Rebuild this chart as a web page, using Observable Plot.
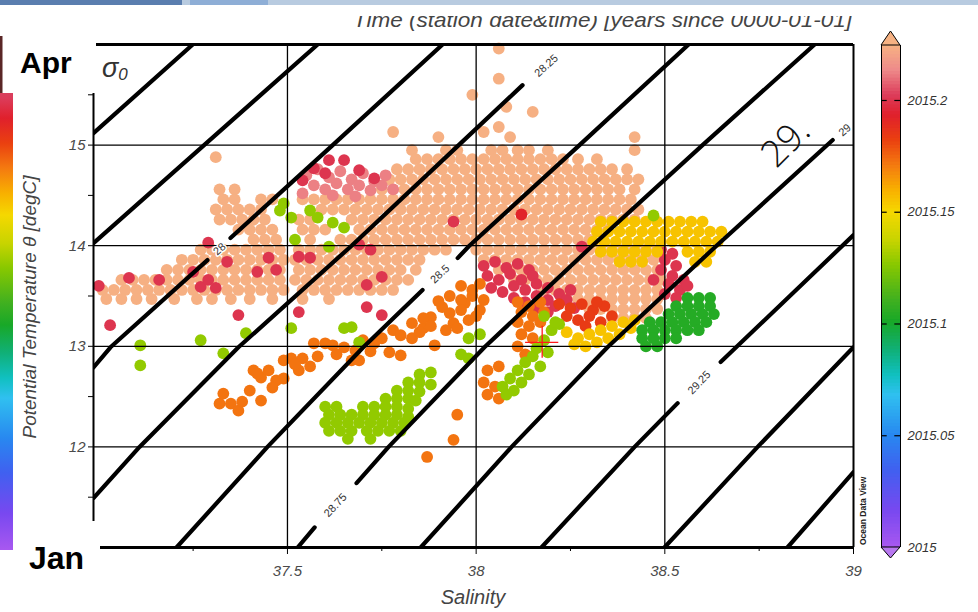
<!DOCTYPE html>
<html><head><meta charset="utf-8">
<script src="https://cdn.jsdelivr.net/npm/d3@7"></script>
<script src="https://cdn.jsdelivr.net/npm/@observablehq/plot@0.6"></script>
<style>
html,body{margin:0;padding:0;background:#fff;}
#wrap{position:relative;width:978px;height:612px;overflow:hidden;background:#fff;}
#wrap > svg{position:absolute;left:0;top:0;}
</style></head><body><div id="wrap"></div>
<script>
// ---------- colour scale (time, years) ----------
const colorStops = [2015.0, 2015.0166, 2015.0345, 2015.0501, 2015.068, 2015.077, 2015.0881, 2015.1007, 2015.1105, 2015.1262, 2015.1374, 2015.1499, 2015.1597, 2015.1709, 2015.1821, 2015.1933, 2015.2022, 2015.2134, 2015.2246];
const colorHexes = ["#a858f0","#7848f0","#4060f0","#2888f0","#30c0f0","#10c0c0","#10b078","#18a828","#40b020","#88c800","#c8d400","#f5d800","#f8b000","#f47a10","#ea4010","#e0202c","#dc3c5a","#ee8a8a","#f6b283"];
const colorTicks = [2015, 2015.05, 2015.1, 2015.15, 2015.2];

// ---------- axes ----------
const xMajorTicks = [37.5, 38, 38.5, 39];
const xMinorTicks = [37.25, 37.75, 38.25, 38.75];
const yTicks = [11.5, 12, 12.5, 13, 13.5, 14, 14.5, 15, 15.5];
const gridS = [37.5, 38, 38.5];
const gridT = [12, 13, 14, 15];

// ---------- observations: time of each group ----------
const tPeach = 2015.224, tPink = 2015.212, tCrimson = 2015.2, tRed = 2015.192, tRedOrange = 2015.184,
      tOrange = 2015.172, tYellow = 2015.155, tYellowGreen = 2015.128, tGreen = 2015.104;

// peach (latest profiles): rows of [theta, [salinities]]
const peachRows = [
 [15.96,[38.06]],[15.66,[38.06]],[15.50,[37.99]],[15.38,[38.08]],[15.33,[38.15]],[15.18,[38.06]],
 [15.13,[37.78,38.02]],[15.08,[37.90,38.09,38.42]],
 [14.95,[37.83,37.92,37.95,38.04,38.07,38.11,38.14,38.19,38.42]],
 [14.88,[37.31]],
 [14.86,[37.84,37.87,37.90,37.93,37.96,37.99,38.02,38.05,38.08,38.11,38.14,38.17,38.20,38.23,38.27,38.32]],
 [14.76,[37.79,37.82,37.85,37.88,37.91,37.94,37.97,38.00,38.03,38.06,38.09,38.12,38.15,38.18,38.21,38.24,38.27,38.30,38.33,38.36,38.40]],
 [14.66,[37.77,37.80,37.83,37.86,37.89,37.92,37.95,37.98,38.01,38.04,38.07,38.10,38.13,38.16,38.19,38.22,38.25,38.28,38.31,38.34,38.37,38.40,38.43]],
 [14.56,[37.32,37.36,37.75,37.78,37.81,37.84,37.87,37.90,37.93,37.96,37.99,38.02,38.05,38.08,38.11,38.14,38.17,38.20,38.23,38.26,38.29,38.32,38.35,38.38,38.42]],
 [14.46,[37.33,37.36,37.43,37.46,37.54,37.57,37.60,37.63,37.66,37.69,37.72,37.75,37.78,37.81,37.84,37.87,37.90,37.93,37.96,37.99,38.02,38.05,38.08,38.11,38.14,38.17,38.20,38.23,38.26,38.29,38.32,38.35,38.38,38.41]],
 [14.36,[37.31,37.34,37.37,37.40,37.43,37.59,37.62,37.65,37.68,37.71,37.74,37.77,37.80,37.83,37.86,37.89,37.92,37.95,37.98,38.01,38.04,38.07,38.10,38.13,38.16,38.19,38.22,38.25,38.28,38.31,38.34,38.37,38.40,38.43]],
 [14.26,[37.32,37.35,37.38,37.41,37.44,37.53,37.56,37.67,37.70,37.73,37.76,37.79,37.82,37.85,37.88,37.91,37.94,37.97,38.00,38.03,38.06,38.09,38.12,38.15,38.18,38.21,38.24,38.27,38.30,38.33,38.36,38.39,38.42]],
 [14.16,[37.37,37.40,37.43,37.46,37.54,37.57,37.60,37.69,37.72,37.75,37.78,37.81,37.84,37.87,37.90,37.93,37.96,37.99,38.02,38.05,38.08,38.11,38.14,38.17,38.20,38.23,38.26,38.29,38.32,38.35]],
 [14.06,[37.41,37.44,37.47,37.56,37.64,37.67,37.70,37.73,37.76,37.79,37.82,37.85,37.88,37.91,37.94,37.97,38.00,38.03,38.06,38.09,38.12,38.15,38.18,38.21,38.24,38.27,38.30]],
 [13.96,[37.27,37.30,37.33,37.36,37.39,37.42,37.45,37.48,37.53,37.56,37.59,37.62,37.65,37.68,37.71,37.74,37.77,37.80,37.83,37.86,37.89,37.92,38.00,38.03,38.06,38.09,38.12,38.15,38.18,38.21,38.24,38.27,38.30,38.33,38.36,38.39,38.42,38.45,38.48]],
 [13.86,[37.22,37.25,37.28,37.31,37.34,37.37,37.40,37.43,37.46,37.49,37.52,37.55,37.58,37.61,37.64,37.67,37.70,37.73,37.76,37.79,37.82,37.85,38.02,38.05,38.08,38.11,38.14,38.17,38.20,38.23,38.26,38.29,38.32,38.35,38.38,38.41,38.44,38.47,38.50]],
 [13.76,[37.18,37.21,37.24,37.27,37.30,37.33,37.36,37.39,37.42,37.45,37.48,37.53,37.56,37.59,37.62,37.65,37.68,37.71,37.74,37.77,37.80,37.84,38.06,38.09,38.12,38.15,38.18,38.21,38.24,38.27,38.30,38.33,38.36,38.39,38.42,38.45,38.48]],
 [13.66,[37.06,37.09,37.12,37.15,37.18,37.21,37.24,37.27,37.30,37.33,37.36,37.39,37.42,37.45,37.48,37.52,37.55,37.58,37.61,37.64,37.67,37.70,37.73,37.76,37.79,37.82,38.10,38.13,38.16,38.19,38.22,38.25,38.28,38.31,38.34,38.37,38.40,38.43,38.46,38.49]],
 [13.56,[37.01,37.04,37.07,37.10,37.13,37.16,37.19,37.22,37.25,37.28,37.31,37.34,37.37,37.40,37.43,37.46,37.49,37.54,37.57,37.60,37.63,37.66,37.69,37.72,37.75,37.78,38.18,38.21,38.24,38.27,38.30,38.33,38.36,38.39,38.42,38.45,38.48]],
 [13.47,[37.02,37.06,37.10,37.14,37.20,37.26,37.30,37.35,37.40,37.46,37.54,37.61,38.24,38.27,38.30,38.33,38.36,38.39,38.42,38.45,38.48]],
 [13.37,[38.30,38.33,38.36,38.39,38.42,38.45,38.48]],
 [13.28,[38.36,38.39,38.42,38.45]]
];
// other groups: [salinity, theta]
const pinkPts = [[37.55,14.70],[37.58,14.76],[37.61,14.68],[37.64,14.74],[37.67,14.66],[37.70,14.72],[37.73,14.64],[37.76,14.70],[37.57,14.60],[37.60,14.56],[37.63,14.62],[37.66,14.56],[37.69,14.60],[37.72,14.55],[37.75,14.60],[37.78,14.56],[37.54,14.52],[37.62,14.50],[37.68,14.49]];
const crimsonPts = [
 [37.61,14.85],[37.65,14.85],[37.54,14.65],[37.60,14.72],[37.69,14.75],[37.73,14.67],[37.57,14.77],
 [37.00,13.60],[37.08,13.68],[37.16,13.66],[37.03,13.21],[37.25,13.74],[37.27,13.59],[37.29,13.66],[37.31,13.58],[37.29,14.03],[37.34,13.84],[37.37,13.31],[37.42,13.74],[37.45,13.88],[37.47,13.76],[37.53,13.89],[37.56,13.88],[37.53,13.34],[37.71,13.61],[37.75,13.69],[37.75,13.31],[37.71,13.39],[37.69,14.01],[37.72,13.96],[37.94,14.24],[38.28,13.99],
 [38.02,13.80],[38.05,13.84],[38.08,13.78],[38.11,13.82],[38.14,13.76],[38.03,13.70],[38.06,13.66],[38.09,13.72],[38.12,13.66],[38.15,13.70],[38.04,13.58],[38.07,13.54],[38.10,13.60],[38.13,13.56],[38.16,13.62],[38.19,13.58],[38.10,13.48],[38.13,13.44],[38.16,13.50],[38.19,13.46],[38.22,13.52],[38.21,13.40],[38.24,13.46],[38.26,13.38],[38.16,13.38],[38.19,13.34],[38.25,13.56],
 [38.49,13.96],[38.52,13.92],[38.50,13.86],[38.53,13.80],[38.49,13.76],[38.52,13.70],[38.55,13.66],[38.51,13.62],[38.54,13.56],[38.50,13.52],[38.53,13.48],[38.56,13.60],[38.47,13.66]
];
const redPts = [[38.12,14.31]];
const redOrangePts = [[38.22,13.42],[38.25,13.38],[38.28,13.42],[38.31,13.36],[38.34,13.40],[38.24,13.30],[38.27,13.26],[38.30,13.30],[38.33,13.24],[38.36,13.30],[38.29,13.20],[38.32,13.44]];
const orangePts = [
 [37.32,12.43],[37.33,12.53],[37.35,12.43],[37.37,12.36],[37.38,12.45],[37.43,12.46],[37.40,12.56],[37.41,12.76],[37.43,12.69],[37.45,12.76],[37.47,12.66],[37.46,12.59],[37.49,12.86],[37.51,12.88],[37.53,12.76],[37.54,12.88],[37.57,13.03],[37.60,13.03],[37.62,13.01],[37.65,12.99],[37.67,12.86],[37.69,12.86],[37.68,12.96],[37.70,13.06],[37.73,13.03],[37.75,13.08],[37.78,13.16],[37.80,13.11],[37.83,13.23],[37.83,13.08],[37.77,12.94],[37.80,12.91],[37.88,13.29],[37.89,13.01],[37.91,13.39],[37.94,13.23],[37.98,13.26],[37.93,13.33],[37.97,13.43],[38.01,13.36],
 [37.42,12.73],[37.49,12.68],[37.52,12.82],[37.56,12.80],[37.58,12.90],[37.63,12.92],[37.72,12.95],[37.86,13.18],
 [37.90,13.45],[37.93,13.50],[37.96,13.46],[37.99,13.50],[38.02,13.46],[37.96,13.36],[38.00,13.30],[37.92,13.16],[37.95,13.18],[37.86,13.28],[37.88,13.20],[37.85,13.14],[37.96,13.60],[37.99,13.56],[38.01,13.62],
 [38.11,13.44],[38.14,13.40],[38.17,13.44],[38.12,13.34],[38.15,13.30],[38.18,13.34],[38.11,13.24],[38.14,13.20],[38.17,13.24],[38.12,13.12],[38.15,13.08],[38.11,13.00],[38.13,12.92],
 [38.03,12.76],[38.02,12.64],[38.05,12.60],[38.03,12.52],[38.06,12.48],[38.06,12.80],
 [37.95,12.32],[37.94,12.07],[37.87,11.90]
];
const yellowRows = [
 [14.24,[38.33,38.36,38.39,38.42,38.45,38.48,38.51,38.54,38.57,38.60]],
 [14.14,[38.32,38.35,38.38,38.41,38.44,38.47,38.50,38.53,38.56,38.59,38.62,38.65]],
 [14.04,[38.31,38.34,38.37,38.40,38.43,38.46,38.49,38.52,38.55,38.58,38.61,38.64]],
 [13.94,[38.33,38.36,38.39,38.42,38.45,38.48,38.56,38.59,38.62]],
 [13.84,[38.38,38.41,38.44,38.58,38.61]]
];
const yellowPts = [[38.24,13.14],[38.27,13.08],[38.30,13.12],[38.33,13.16],[38.36,13.20],[38.39,13.24],[38.26,13.02],[38.29,13.00],[38.32,13.04],[38.35,13.08],[38.38,13.12],[38.41,13.18],[38.42,13.26]];
const yellowGreenPts = [
 [37.48,14.35],[37.51,14.28],[37.56,14.35],[37.58,14.28],[37.62,14.23],[37.65,14.18],[37.52,14.06],[37.61,13.99],[37.49,14.42],[38.47,14.30],
 [37.11,13.01],[37.11,12.81],[37.27,13.06],[37.33,12.93],[37.39,13.13],[37.51,13.18],[37.65,13.18],[37.67,13.19],[37.69,13.04],
 [37.85,12.72],[37.88,12.74],[37.82,12.64],[37.85,12.64],[37.88,12.62],[37.79,12.56],[37.82,12.56],[37.85,12.55],[37.76,12.48],[37.79,12.48],[37.82,12.48],[37.84,12.46],
 [37.60,12.40],[37.63,12.40],[37.70,12.40],[37.73,12.40],[37.76,12.40],[37.79,12.40],[37.82,12.38],
 [37.61,12.32],[37.64,12.32],[37.67,12.32],[37.70,12.32],[37.73,12.32],[37.76,12.32],[37.79,12.32],[37.82,12.30],
 [37.60,12.24],[37.63,12.24],[37.66,12.24],[37.69,12.24],[37.72,12.24],[37.75,12.24],[37.78,12.24],[37.81,12.24],
 [37.61,12.16],[37.64,12.16],[37.67,12.16],[37.71,12.16],[37.74,12.16],[37.77,12.16],[37.80,12.16],[37.66,12.08],[37.72,12.08],
 [37.96,12.92],[37.98,12.88],[37.98,13.08],[38.01,13.12],[38.07,12.60],[38.09,12.68],[38.11,12.76],[38.13,12.84],[38.15,12.90],[38.16,12.98],[38.18,13.06],[38.20,13.16],[38.22,13.22],[38.08,12.52],[38.12,12.64],[38.14,12.72],[38.17,12.80],[38.19,12.94],[38.10,12.56],[38.18,13.30],[38.21,13.24]
];
const greenRows = [
 [13.48,[38.56,38.59,38.62]],
 [13.40,[38.53,38.56,38.59,38.62]],
 [13.32,[38.51,38.54,38.57,38.60,38.63]],
 [13.24,[38.46,38.49,38.52,38.55,38.58,38.61]],
 [13.16,[38.44,38.47,38.50,38.53,38.56,38.59]],
 [13.08,[38.44,38.47,38.50,38.53]],
 [13.00,[38.45,38.48]]
];
// current station marker: salinity, theta, and half-size of the cross arms
const currentStation = {S: 38.175, T: 13.04, dS: 0.044, dT: 0.16};

// ---------- isopycnals sigma0 (null = label gap) ----------
const isoSigma = [27.5, 27.75, 28, 28.25, 28.5, 28.75, 29, 29.25, 29.5, 29.75];
const isoS = [
 [37.249,36.986],
 [37.580,36.986],
 [37.911,37.617,37.349,null,37.288,37.031,36.986],
 [38.123,37.951,37.670,37.370,37.108,36.986],
 [38.563,38.271,37.982,37.951,null,37.858,37.701,37.447,37.206],
 [38.897,38.597,38.308,38.022,37.768,37.683,null,37.572,37.527],
 [38.945,38.637,38.348,38.094,37.853],
 [39.0,38.648,null,38.534,38.420,38.173],
 [39.0,38.746,38.499],
 [39.0,38.825]
];
const isoT = [
 [16.0,15.119],
 [16.0,14.026],
 [16.0,14.99,14.076,null,13.857,12.99,12.79],
 [15.596,14.99,14.0,12.99,12.0,11.49],
 [16.0,14.99,14.0,13.877,null,13.559,12.99,12.0,11.0],
 [16.0,14.99,14.0,12.99,12.0,11.64,null,11.20,11.0],
 [15.05,14.0,12.99,12.0,11.0],
 [14.105,12.843,null,12.435,12.0,11.0],
 [12.99,12.0,11.0],
 [11.75,11.0]
];
const isoLabelText = ["28","28.25","28.5","28.75","29","29.25"];
const isoLabelS = [37.320, 38.186, 37.904, 37.627, 38.977, 38.591];
const isoLabelT = [13.966, 15.79, 13.718, 11.42, 15.15, 12.639];
const isoLabelAngle = [-42, -42, -43, -47, -40, -46];

// ---------- build tables ----------
const fromRows = (rows, t) => rows.flatMap(([T, Ss]) => Ss.map(S => ({S, T, t})));
const fromPairs = (pairs, t) => pairs.map(([S, T]) => ({S, T, t}));
const points = [
 ...fromRows(peachRows, tPeach), ...fromPairs(pinkPts, tPink), ...fromPairs(crimsonPts, tCrimson),
 ...fromPairs(redPts, tRed), ...fromPairs(redOrangePts, tRedOrange), ...fromPairs(orangePts, tOrange),
 ...fromRows(yellowRows, tYellow), ...fromPairs(yellowPts, tYellow),
 ...fromPairs(yellowGreenPts, tYellowGreen), ...fromRows(greenRows, tGreen)
];
const iso = isoSigma.flatMap((s, i) => isoS[i].map((S, j) => ({sigma: s, S: S == null ? NaN : S, T: isoT[i][j] == null ? NaN : isoT[i][j]})));
const isoLabels = isoLabelText.map((text, i) => ({text, S: isoLabelS[i], T: isoLabelT[i], a: isoLabelAngle[i]}));
const cs = currentStation;

const FONT = '"Liberation Sans", Arial, Helvetica, sans-serif';
const colorScale = {type: "linear", domain: colorStops, range: colorHexes};

const main = Plot.plot({
 width: 978, height: 612,
 marginLeft: 93, marginRight: 125, marginTop: 44, marginBottom: 65,
 x: {domain: [36.986, 39], label: null},
 y: {domain: [11, 16], label: null},
 color: colorScale,
 style: {background: "transparent", fontFamily: FONT, overflow: "visible"},
 marks: [
  Plot.dot(points, {x: "S", y: "T", fill: "t", r: 5.9}),
  Plot.ruleY([cs], {y: "T", x1: d => d.S - d.dS, x2: d => d.S + d.dS, stroke: "#ff1a1a", strokeWidth: 1.3}),
  Plot.ruleX([cs], {x: "S", y1: d => d.T - d.dT, y2: d => d.T + d.dT, stroke: "#ff1a1a", strokeWidth: 1.3}),
  Plot.ruleX(gridS, {stroke: "#000", strokeWidth: 1.3}),
  Plot.ruleY(gridT, {stroke: "#000", strokeWidth: 1.3}),
  Plot.line(iso, {x: "S", y: "T", z: "sigma", stroke: "#000", strokeWidth: 4.2, clip: true}),
  Plot.text(isoLabels, {x: "S", y: "T", text: "text", rotate: "a", fontSize: 11, fill: "#333", stroke: "white", strokeWidth: 3}),
  Plot.ruleY([16], {stroke: "#000", strokeWidth: 3}),
  Plot.ruleY([11], {stroke: "#000", strokeWidth: 3}),
  Plot.ruleX([39], {stroke: "#000", strokeWidth: 2}),
  Plot.ruleX([36.986], {stroke: "#000", strokeWidth: 2}),
  Plot.axisX(xMajorTicks, {tickSize: 7, tickPadding: 11, tickFormat: d => String(d), fontSize: 15, fontStyle: "italic", fill: "#4a4a4a", stroke: "#000", label: null}),
  Plot.axisX(xMinorTicks, {tickSize: 4, tickFormat: () => "", stroke: "#000", label: null}),
  Plot.axisY(yTicks, {tickSize: 5, tickPadding: 3, tickFormat: d => Number.isInteger(d) ? String(d) : "", fontSize: 15, fontStyle: "italic", fill: "#4a4a4a", stroke: "#000", label: null})
 ]
});

// ---------- colour bar ----------
const rampStep = 0.0015;
const ramp = d3.range(colorStops[0], colorStops[colorStops.length - 1], rampStep);
const cbar = Plot.plot({
 width: 118, height: 612,
 marginLeft: 21, marginRight: 78, marginTop: 45, marginBottom: 65,
 x: {domain: [0, 1], axis: null},
 y: {domain: [colorStops[0], colorStops[colorStops.length - 1]], axis: null},
 color: colorScale,
 style: {background: "transparent", fontFamily: FONT, overflow: "visible"},
 marks: [
  Plot.rect(ramp, {x1: 0, x2: 1, y1: d => d, y2: d => Math.min(d + rampStep * 1.6, colorStops[colorStops.length - 1]), fill: d => d + rampStep / 2}),
  Plot.ruleY(colorTicks, {x1: 0, x2: 0.3, stroke: "#000", strokeWidth: 1.2}),
  Plot.ruleY(colorTicks, {x1: 0.7, x2: 1, stroke: "#000", strokeWidth: 1.2}),
  Plot.ruleX([0, 1], {y1: colorStops[0], y2: colorStops[colorStops.length - 1], stroke: "#000", strokeWidth: 1}),
  Plot.text(colorTicks, {x: 1, y: d => d, dx: 7, text: d => String(d), textAnchor: "start", fontSize: 13, fontStyle: "italic", fill: "#333"})
 ]
});

const wrap = document.getElementById("wrap");
wrap.appendChild(main);
cbar.style.left = "860px";
wrap.appendChild(cbar);

// ---------- overlay: titles, annotations, pasted fragments ----------
const ov = d3.create("svg").attr("width", 978).attr("height", 612).attr("viewBox", "0 0 978 612")
  .style("position", "absolute").style("left", "0px").style("top", "0px").style("font-family", FONT);
const defs = ov.append("defs");
const grad = defs.append("linearGradient").attr("id", "strip").attr("x1", 0).attr("y1", 0).attr("x2", 0).attr("y2", 1);
const stripTop = 2015.205;
grad.append("stop").attr("offset", 0).attr("stop-color", "#d8405e");
colorStops.filter(v => v <= stripTop).reverse().forEach(v => {
  grad.append("stop").attr("offset", (stripTop - v) / (stripTop - colorStops[0])).attr("stop-color", colorHexes[colorStops.indexOf(v)]);
});

// title (top of the glyphs cut off in the original screenshot)
ov.append("text").attr("x", 353).attr("y", 27).attr("font-size", 21).attr("font-style", "italic").attr("fill", "#444")
  .attr("textLength", 499).attr("lengthAdjust", "spacingAndGlyphs").text("Time (station date&time) [years since 0000-01-01]");
ov.append("rect").attr("x", 0).attr("y", 0).attr("width", 978).attr("height", 16).attr("fill", "#fff");
ov.append("rect").attr("x", 0).attr("y", 0).attr("width", 978).attr("height", 5).attr("fill", "#b8cbe0");
ov.append("rect").attr("x", 0).attr("y", 0).attr("width", 182).attr("height", 5).attr("fill", "#5a7eaf");
ov.append("rect").attr("x", 190).attr("y", 0).attr("width", 78).attr("height", 5).attr("fill", "#8eaed6");

// axis titles
ov.append("text").attr("x", 473).attr("y", 604).attr("text-anchor", "middle").attr("font-size", 20).attr("font-style", "italic").attr("fill", "#444").text("Salinity");
ov.append("text").attr("transform", "translate(36,307) rotate(-90)").attr("text-anchor", "middle").attr("font-size", 19).attr("font-style", "italic").attr("fill", "#444").text("Potential Temperature θ [degC]");

// sigma0 label
const sg = ov.append("text").attr("x", 102).attr("y", 77).attr("font-style", "italic").attr("fill", "#333");
sg.append("tspan").attr("font-size", 27).text("σ");
sg.append("tspan").attr("font-size", 17).attr("dy", 3).text("0");

// colour-bar end arrows
ov.append("path").attr("d", "M881,45 L890.5,31 L900,45 Z").attr("fill", "#f6b283").attr("stroke", "#000").attr("stroke-width", 1);
ov.append("path").attr("d", "M881,547 L890.5,558 L900,547 Z").attr("fill", "#b878f0").attr("stroke", "#000").attr("stroke-width", 1);

// Ocean Data View credit
ov.append("text").attr("transform", "translate(866,545) rotate(-90)").attr("font-size", 8.5).attr("font-weight", "bold").attr("fill", "#222").text("Ocean Data View");

// handwritten annotation
ov.append("text").attr("transform", "translate(784,141) rotate(-45)").attr("text-anchor", "middle").attr("dominant-baseline", "central")
  .attr("font-size", 37).attr("font-family", '"Open Sans", "DejaVu Sans", sans-serif').attr("font-weight", 300).attr("fill", "#111").text("29.");

// pasted month labels and colour strip at the left
ov.append("rect").attr("x", 0).attr("y", 92).attr("width", 13).attr("height", 458).attr("fill", "url(#strip)");
ov.append("rect").attr("x", 2).attr("y", 36).attr("width", 94).attr("height", 57).attr("fill", "#fff");
ov.append("rect").attr("x", 0).attr("y", 36).attr("width", 2.5).attr("height", 57).attr("fill", "#5a2626");
ov.append("text").attr("x", 20).attr("y", 73).attr("font-size", 30).attr("font-weight", "bold").attr("fill", "#000").text("Apr");
ov.append("rect").attr("x", 13).attr("y", 521).attr("width", 87).attr("height", 91).attr("fill", "#fff");
ov.append("text").attr("x", 29).attr("y", 569).attr("font-size", 32).attr("font-weight", "bold").attr("fill", "#000").text("Jan");

wrap.appendChild(ov.node());
</script></body></html>
